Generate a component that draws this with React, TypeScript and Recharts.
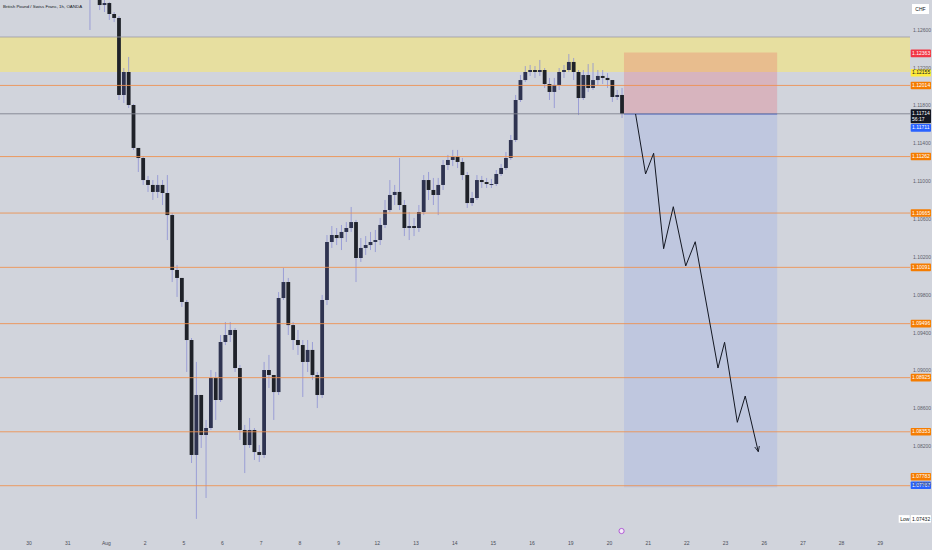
import {
  Bar,
  ComposedChart,
  Line,
  ReferenceArea,
  ReferenceDot,
  ReferenceLine,
  XAxis,
  YAxis,
} from "recharts";

const TITLE = "British Pound / Swiss Franc, 1h, OANDA";

// 3h bars, counted from Jul 30 00:00 (trading hours only)
const FIRST_BAR = 12;
const BAR_HOURS = 3;
const FIRST_OPEN = 1.13044;

const closes = [
  1.1298, 1.13002, 1.12864, 1.12885, 1.12769, 1.12727, 1.11913, 1.12156, 1.11807, 1.11353,
  1.11247, 1.11014, 1.10962, 1.10888, 1.10962, 1.10877, 1.10644, 1.10063, 1.09979, 1.09725,
  1.09323, 1.08108, 1.08742, 1.08319, 1.08393, 1.08922, 1.08689, 1.09302, 1.09376, 1.09429,
  1.09027, 1.08372, 1.08213, 1.08372, 1.08139, 1.08108, 1.09006, 1.08953, 1.08773, 1.09767,
  1.09936, 1.09481, 1.09323, 1.0927, 1.09091, 1.09218, 1.08953, 1.08742, 1.09746, 1.10359,
  1.10433, 1.10401, 1.10465, 1.10507, 1.1057, 1.1019, 1.10296, 1.10327, 1.10359, 1.1038,
  1.10539, 1.10697, 1.10856, 1.10888, 1.1075, 1.10507, 1.10528, 1.10507, 1.10676, 1.11014,
  1.10909, 1.10856, 1.10962, 1.11173, 1.11226, 1.11258, 1.11205, 1.11067, 1.10771, 1.10824,
  1.11014, 1.10993, 1.10972, 1.10972, 1.11078, 1.11141, 1.11247, 1.11437, 1.1186, 1.12071,
  1.12156, 1.12177, 1.12156, 1.12177, 1.12029, 1.11945, 1.12019, 1.12156, 1.12177, 1.12262,
  1.12156, 1.11881, 1.12124, 1.11987, 1.12071, 1.12114, 1.12093, 1.12071, 1.11892, 1.11913,
  1.11714,
];

const highs = [
  1.13128, 1.13107, 1.13023, 1.1297, 1.12896, 1.1279, 1.12748, 1.12198, 1.12315, 1.11818,
  1.11353, 1.11268, 1.11057, 1.11014, 1.11067, 1.11014, 1.11067, 1.10666, 1.10116, 1.09926,
  1.09746, 1.09344, 1.09091, 1.0871, 1.08478, 1.09006, 1.08985, 1.09376, 1.09513, 1.09513,
  1.0945, 1.09059, 1.08425, 1.08499, 1.08393, 1.08213, 1.09091, 1.09165, 1.08953, 1.0983,
  1.10085, 1.09979, 1.09513, 1.09429, 1.09323, 1.09323, 1.09302, 1.08985, 1.09799, 1.10433,
  1.10528, 1.10507, 1.10539, 1.1057, 1.10729, 1.10592, 1.10401, 1.10422, 1.10465, 1.10486,
  1.10613, 1.10803, 1.11014, 1.10962, 1.11247, 1.10803, 1.10676, 1.10613, 1.1075, 1.11067,
  1.11099, 1.11036, 1.11036, 1.11226, 1.11279, 1.11332, 1.11332, 1.11247, 1.11099, 1.10888,
  1.11067, 1.11057, 1.11036, 1.11025, 1.1112, 1.11184, 1.1131, 1.1149, 1.11913, 1.12124,
  1.12219, 1.1223, 1.12219, 1.12283, 1.12198, 1.12093, 1.12093, 1.12198, 1.1223, 1.12346,
  1.12304, 1.12177, 1.12177, 1.1224, 1.12251, 1.12177, 1.12177, 1.12145, 1.12071, 1.11966,
  1.11987,
];

const lows = [
  1.126, 1.12938, 1.12811, 1.1279, 1.12706, 1.12684, 1.1186, 1.11828, 1.11775, 1.11332,
  1.11099, 1.10962, 1.10888, 1.10803, 1.10824, 1.1075, 1.1038, 1.09936, 1.09778, 1.09672,
  1.08985, 1.08023, 1.07432, 1.08182, 1.07653, 1.08372, 1.08478, 1.08668, 1.0927, 1.09302,
  1.08985, 1.08266, 1.07917, 1.08182, 1.08055, 1.08034, 1.08076, 1.08816, 1.08478, 1.08742,
  1.09746, 1.09376, 1.09218, 1.09165, 1.08721, 1.08985, 1.089, 1.08604, 1.0871, 1.09693,
  1.10296, 1.10327, 1.10274, 1.10359, 1.10465, 1.09936, 1.10148, 1.10222, 1.10274, 1.10253,
  1.10327, 1.10507, 1.10676, 1.1075, 1.10697, 1.10422, 1.1038, 1.10422, 1.10465, 1.10644,
  1.10803, 1.1075, 1.10644, 1.10909, 1.1112, 1.11162, 1.11141, 1.11014, 1.10719, 1.1074,
  1.10803, 1.1093, 1.1093, 1.1093, 1.10951, 1.11057, 1.1112, 1.11226, 1.11416, 1.11839,
  1.1205, 1.12114, 1.12093, 1.12114, 1.11987, 1.1186, 1.11775, 1.11966, 1.12093, 1.12156,
  1.12071, 1.11701, 1.1186, 1.11945, 1.11966, 1.12019, 1.12029, 1.11987, 1.11839, 1.1186,
  1.1167,
];

const dayLabels = [
  "30", "31", "Aug", "2", "5", "6", "7", "8", "9", "12", "13", "14",
  "15", "16", "19", "20", "21", "22", "23", "26", "27", "28", "29",
];

const priceTicks = [
  1.076, 1.078, 1.08, 1.082, 1.084, 1.086, 1.088, 1.09, 1.092, 1.094, 1.096, 1.098, 1.1,
  1.102, 1.104, 1.106, 1.108, 1.11, 1.112, 1.114, 1.116, 1.118, 1.12, 1.122, 1.124, 1.126,
];

const levels = [1.12014, 1.11262, 1.10665, 1.10091, 1.09496, 1.08925, 1.08353, 1.07783];

const zoneTop = 1.12526;
const zoneBottom = 1.12155;
const stopPrice = 1.12363;
const entryPrice = 1.11711;
const targetPrice = 1.07767;
const lastPrice = 1.11714;
const lowPrice = 1.07432;
const boxStart = 369;
const boxEnd = 464;
const countdown = "56:17";

// hand-drawn projection
const pathTimes = [376.2, 382.4, 387.4, 393.6, 399.6, 407.3, 413.2, 427.3, 431.4, 439.3, 444.2, 452.3];
const pathPrices = [
  1.11712, 1.11078, 1.11297, 1.10288, 1.10732, 1.10106, 1.10362, 1.09027, 1.09299, 1.08453,
  1.08731, 1.08143,
];

const BG = "#d1d4dc";
const ORANGE = "#f57c00";
const LEVEL_LINE = "#ef8f4c";
const FONT = "'Liberation Sans', Arial, sans-serif";
const Y_DOMAIN: [number, number] = [1.07262, 1.12917];
const X_DOMAIN: [number, number] = [-18, 546.4];

const candles = closes.map((close, i) => {
  const open = i === 0 ? FIRST_OPEN : closes[i - 1];
  const high = Math.max(highs[i], open, close);
  const low = Math.min(lows[i], open, close);
  return {
    t: (FIRST_BAR + i) * BAR_HOURS + BAR_HOURS / 2,
    open,
    close,
    high,
    low,
    range: [low, high],
  };
});

const pathData = pathTimes.map((t, i) => ({ t, price: pathPrices[i] }));

function Candle(props: any) {
  const { x, y, width, height, payload } = props;
  if (!payload || x == null) return null;
  const top = Math.min(y, y + height);
  const h = Math.abs(height);
  const span = payload.high - payload.low;
  const k = span > 0 ? h / span : 0;
  const yOf = (p: number) => top + (payload.high - p) * k;
  const up = payload.close >= payload.open;
  const bodyTop = yOf(Math.max(payload.open, payload.close));
  const bodyBottom = yOf(Math.min(payload.open, payload.close));
  const cx = x + width / 2;
  return (
    <g>
      <line x1={cx} x2={cx} y1={top} y2={top + h} stroke="#8d90d4" strokeWidth={0.8} />
      <rect
        x={x}
        y={bodyTop}
        width={width}
        height={Math.max(1, bodyBottom - bodyTop)}
        fill={up ? "#2e3350" : "#1f2229"}
      />
    </g>
  );
}

function Tag(props: any) {
  const { viewBox, text, sub, bg, color = "#fff", dy = 0, lead } = props;
  if (!viewBox) return null;
  const x = viewBox.x + viewBox.width + 0.7;
  const h = sub ? 14 : 7.6;
  const top = viewBox.y - 3.8 + dy;
  return (
    <g fontFamily={FONT} fontSize={5}>
      {lead && (
        <g>
          <rect x={x - 12} y={top} width={11} height={h} fill="#ffffff" />
          <text x={x - 10.5} y={top + 5.4} fill="#131722">{lead}</text>
        </g>
      )}
      <rect x={x} y={top} width={20.3} height={h} fill={bg} rx={0.8} />
      <text x={x + 1.4} y={top + 5.4} fill={color}>{text}</text>
      {sub && (
        <text x={x + 1.4} y={top + 11.6} fill={color}>{sub}</text>
      )}
    </g>
  );
}

function PriceTick(props: any) {
  const { x, y, payload } = props;
  return (
    <text x={x} y={y} dy={1.8} fontSize={5} fill="#5d606b" fontFamily={FONT}>
      {Number(payload.value).toFixed(5)}
    </text>
  );
}

function DayTick(props: any) {
  const { x, y, payload } = props;
  const i = Math.round(payload.value / 24);
  return (
    <text x={x} y={y + 8} textAnchor="middle" fontSize={5} fill="#4a4d57" fontFamily={FONT}>
      {dayLabels[i]}
    </text>
  );
}

export default function App() {
  return (
    <div
      style={{
        position: "absolute",
        left: 0,
        top: 0,
        width: 932,
        height: 550,
        background: BG,
        overflow: "hidden",
      }}
    >
      <svg width={0} height={0} style={{ position: "absolute" }}>
        <defs>
          <marker
            id="arrowHead"
            viewBox="0 0 10 10"
            refX={9}
            refY={5}
            markerWidth={6}
            markerHeight={6}
            markerUnits="userSpaceOnUse"
            orient="auto"
          >
            <path d="M0,1 L9,5 L0,9" fill="none" stroke="#131722" strokeWidth={1.4} />
          </marker>
        </defs>
      </svg>
      <ComposedChart
        width={932}
        height={550}
        data={candles}
        margin={{ top: 0, right: 0, bottom: 0, left: 0 }}
      >
        <XAxis
          dataKey="t"
          type="number"
          domain={X_DOMAIN}
          allowDataOverflow
          ticks={dayLabels.map((_, i) => i * 24)}
          tick={<DayTick />}
          axisLine={false}
          tickLine={false}
          tickSize={0}
          height={15}
        />
        <YAxis
          orientation="right"
          type="number"
          domain={Y_DOMAIN}
          allowDataOverflow
          ticks={priceTicks}
          tick={<PriceTick />}
          axisLine={false}
          tickLine={false}
          tickSize={0}
          tickMargin={3}
          width={22}
        />

        <ReferenceArea y1={zoneBottom} y2={zoneTop} fill="#e7dfa0" fillOpacity={1} stroke="none" />
        <ReferenceLine y={zoneTop} stroke="#9a9ca6" strokeWidth={0.8} />

        <ReferenceArea
          x1={boxStart}
          x2={boxEnd}
          y1={entryPrice}
          y2={stopPrice}
          fill="#f23645"
          fillOpacity={0.2}
          stroke="none"
        />
        <ReferenceArea
          x1={boxStart}
          x2={boxEnd}
          y1={targetPrice}
          y2={entryPrice}
          fill="#2962ff"
          fillOpacity={0.11}
          stroke="none"
        />

        {levels.map((p, i) => (
          <ReferenceLine
            key={p}
            y={p}
            stroke={LEVEL_LINE}
            strokeOpacity={0.95}
            strokeWidth={0.9}
            label={
              <Tag
                text={p.toFixed(5)}
                bg={ORANGE}
                dy={i === levels.length - 1 ? -9 : 0}
              />
            }
          />
        ))}

        <ReferenceLine y={lastPrice} stroke="#80838e" strokeWidth={0.9} />
        <ReferenceLine
          segment={[
            { x: boxStart, y: entryPrice },
            { x: boxEnd, y: entryPrice },
          ]}
          stroke="#5a6fc4"
          strokeWidth={0.9}
        />

        <Bar
          dataKey="range"
          barSize={3.8}
          shape={<Candle />}
          isAnimationActive={false}
        />

        <Line
          data={pathData}
          dataKey="price"
          type="linear"
          stroke="#131722"
          strokeWidth={1}
          dot={false}
          activeDot={false}
          markerEnd="url(#arrowHead)"
          isAnimationActive={false}
        />

        <ReferenceDot
          x={candles[candles.length - 1].t}
          y={Y_DOMAIN[0] + 0.00042}
          r={2.6}
          fill="#f4eaf8"
          stroke="#a43bd0"
          strokeWidth={0.8}
        />

        <ReferenceLine
          y={stopPrice}
          stroke="none"
          label={<Tag text={stopPrice.toFixed(5)} bg="#f23645" dy={1} />}
        />
        <ReferenceLine
          y={zoneBottom}
          stroke="none"
          label={<Tag text={zoneBottom.toFixed(5)} bg="#ffeb3b" color="#131722" dy={0.6} />}
        />
        <ReferenceLine
          y={lastPrice}
          stroke="none"
          label={<Tag text={lastPrice.toFixed(5)} sub={countdown} bg="#131722" dy={-0.8} />}
        />
        <ReferenceLine
          y={entryPrice}
          stroke="none"
          label={<Tag text={entryPrice.toFixed(5)} bg="#2962ff" dy={13.8} />}
        />
        <ReferenceLine
          y={targetPrice}
          stroke="none"
          label={<Tag text={targetPrice.toFixed(5)} bg="#2962ff" dy={-2} />}
        />
        <ReferenceLine
          y={lowPrice}
          stroke="none"
          label={<Tag text={lowPrice.toFixed(5)} bg="#ffffff" color="#131722" lead="Low" />}
        />
      </ComposedChart>

      <div
        style={{
          position: "absolute",
          left: 3,
          top: 4,
          fontFamily: FONT,
          fontSize: 4.4,
          color: "#131722",
          whiteSpace: "nowrap",
        }}
      >
        {TITLE}
      </div>
      <div
        style={{
          position: "absolute",
          left: 912,
          top: 4,
          width: 17,
          height: 10,
          background: "#ffffff",
          fontFamily: FONT,
          fontSize: 5,
          lineHeight: "10px",
          textAlign: "center",
          color: "#131722",
        }}
      >
        CHF
      </div>
    </div>
  );
}
